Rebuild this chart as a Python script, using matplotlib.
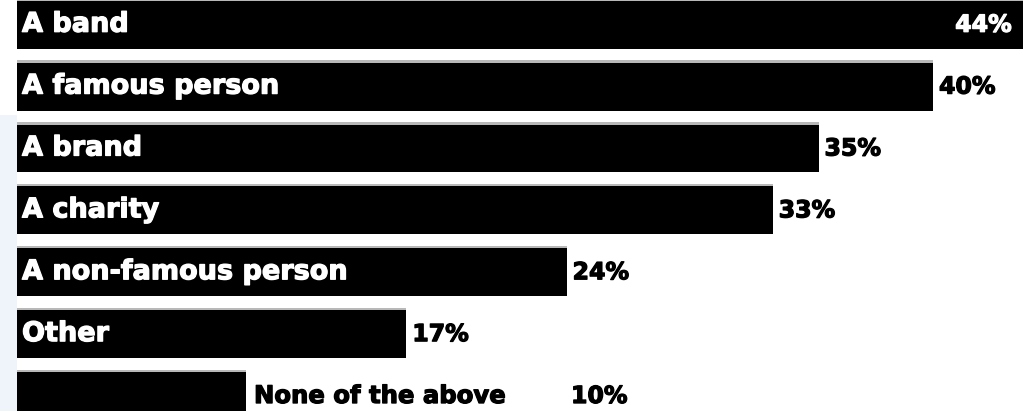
import numpy as np
import matplotlib
matplotlib.use('Agg')
import matplotlib.pyplot as plt
import matplotlib.patheffects as pe
from matplotlib.patches import Rectangle

labels = ['A band', 'A famous person', 'A brand', 'A charity',
          'A non-famous person', 'Other', 'None of the above']
values = [44, 40, 35, 33, 24, 17, 10]

fig = plt.figure(figsize=(10.23, 4.11), dpi=100)
fig.patch.set_facecolor('white')
# light strip on the far left of the screenshot
fig.add_artist(Rectangle((0, 0), 17/1023, 0.72, transform=fig.transFigure,
                         facecolor='#eef4fa', edgecolor='none'))

ax = fig.add_axes([17/1023, 0, 1 - 17/1023, 1])
ax.set_facecolor('white')

y = np.arange(len(values))
h = 48/62
ax.barh(y, values, height=h, color='black', edgecolor='none')
# thin grey rim on top of each bar
ax.barh(y - h/2 - 0.02, values, height=0.04, color='#b8b8b8', edgecolor='none')

ax.set_xlim(0, 1006/22.9)
ax.set_ylim(-0.387 + 411/62, -0.40)
ax.axis('off')

px = 1/22.9
font = dict(family='DejaVu Sans', fontweight='bold')


def heavy(c):
    return [pe.withStroke(linewidth=0.9, foreground=c)]


for i, (lab, v) in enumerate(zip(labels, values)):
    if i == len(values) - 1:
        ax.text(v + 8*px, i + 0.0, lab, color='black', fontsize=17.5,
                va='center', ha='left', path_effects=heavy('black'), **font)
        ax.text(v + 325*px, i + 0.0, f'{v}%', color='black', fontsize=17,
                va='center', ha='left', path_effects=heavy('black'), **font)
        continue
    ax.text(5*px, i, lab, color='white', fontsize=19.5, va='center', ha='left',
            path_effects=heavy('white'), **font)
    if i == 0:
        ax.text(v - 13*px, i, f'{v}%', color='white', fontsize=17,
                va='center', ha='right', path_effects=heavy('white'), **font)
    else:
        ax.text(v + 6*px, i, f'{v}%', color='black', fontsize=17,
                va='center', ha='left', path_effects=heavy('black'), **font)

fig.savefig('out.png', dpi=100)
